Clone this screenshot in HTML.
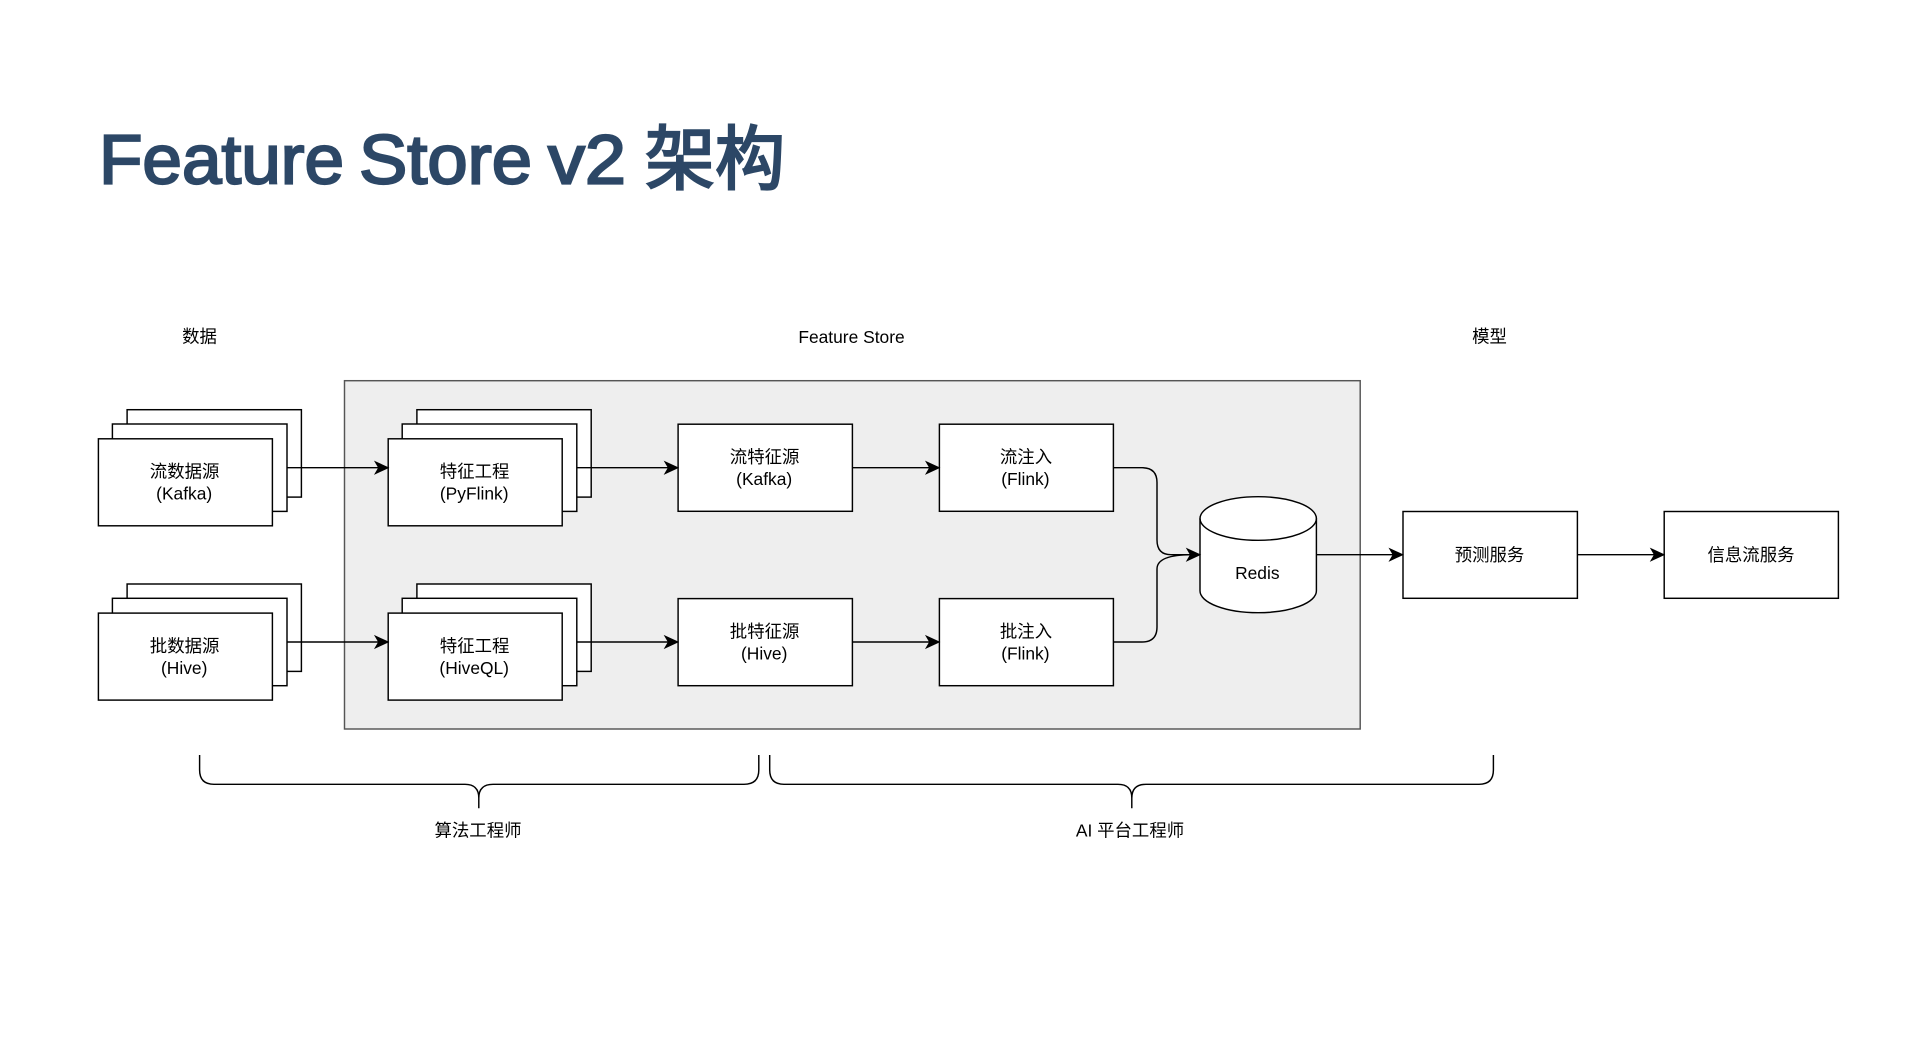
<!DOCTYPE html>
<html lang="zh">
<head>
<meta charset="utf-8">
<title>Feature Store v2 架构</title>
<style>
html,body{margin:0;padding:0;background:#fff;width:1928px;height:1038px;overflow:hidden}
svg{display:block}
text{font-family:"Liberation Sans","Noto Sans CJK SC",sans-serif;font-size:17.4px;fill:#000;text-anchor:middle}
.t{font-size:70px;font-weight:400;fill:#2c4766;stroke:#2c4766;stroke-width:2.2px;text-anchor:start}
.b{fill:#fff;stroke:#000;stroke-width:1.45}
.l{fill:none;stroke:#000;stroke-width:1.45}
.h{fill:#000;stroke:#000;stroke-width:1}
</style>
</head>
<body>
<svg width="1928" height="1038" viewBox="0 0 1928 1038" xmlns="http://www.w3.org/2000/svg">
<defs>
<path id="ah" d="M0 0 L-13 -6 L-9.5 0 L-13 6 Z"/>
<g id="stack">
<rect class="b" x="28.7" y="-28.6" width="174.3" height="87.4"/>
<rect class="b" x="14" y="-14.3" width="174.6" height="87.4"/>
<rect class="b" x="0" y="0.5" width="174" height="87"/>
</g>
</defs>

<text class="t" x="99" y="183.7" textLength="245" lengthAdjust="spacingAndGlyphs">Feature</text>
<text class="t" x="359" y="183.7" textLength="173" lengthAdjust="spacingAndGlyphs">Store</text>
<text class="t" x="548" y="183.7" textLength="78" lengthAdjust="spacingAndGlyphs">v2</text>
<text class="t" x="645" y="183.7" textLength="140" lengthAdjust="spacingAndGlyphs">架构</text>

<text x="199.5" y="342.5">数据</text>
<text x="851.5" y="343">Feature Store</text>
<text x="1489.5" y="342.5">模型</text>

<rect x="344.5" y="380.7" width="1015.7" height="348.3" fill="#eeeeee" stroke="#555" stroke-width="1.45"/>

<use href="#stack" x="98.4" y="438.3"/>
<use href="#stack" x="98.4" y="612.6"/>
<use href="#stack" x="388.2" y="438.3"/>
<use href="#stack" x="388.2" y="612.6"/>

<rect class="b" x="678.1" y="424.2" width="174.3" height="87.1"/>
<rect class="b" x="939.4" y="424.2" width="174" height="87.1"/>
<rect class="b" x="678.1" y="598.6" width="174.3" height="87.1"/>
<rect class="b" x="939.4" y="598.6" width="174" height="87.1"/>
<rect class="b" x="1403" y="511.5" width="174.4" height="86.8"/>
<rect class="b" x="1664.2" y="511.5" width="174.2" height="86.8"/>

<path class="b" d="M1200 518.5 A58.2 21.8 0 0 1 1316.4 518.5 V590.9 A58.2 21.8 0 0 1 1200 590.9 Z"/>
<path class="l" d="M1200 518.5 A58.2 21.8 0 0 0 1316.4 518.5"/>

<path class="l" d="M287 467.7 H380 M287 642 H380 M577 467.7 H670 M577 642 H670 M852.4 467.7 H931 M852.4 642 H931 M1316.6 554.7 H1395 M1577.6 554.7 H1656"/>
<path class="l" d="M1113.6 467.7 H1142 Q1157 467.7 1157 482.5 V540 Q1157 554.7 1171 554.7 H1192 Q1157 554.7 1157 569 V627 Q1157 642 1142 642 H1113.6"/>

<use class="h" href="#ah" x="388.2" y="467.7"/>
<use class="h" href="#ah" x="388.2" y="642"/>
<use class="h" href="#ah" x="677.9" y="467.7"/>
<use class="h" href="#ah" x="677.9" y="642"/>
<use class="h" href="#ah" x="939.2" y="467.7"/>
<use class="h" href="#ah" x="939.2" y="642"/>
<use class="h" href="#ah" x="1200" y="554.7"/>
<use class="h" href="#ah" x="1402.7" y="554.7"/>
<use class="h" href="#ah" x="1664" y="554.7"/>

<text x="184.6" y="477.4">流数据源</text><text x="184.2" y="499.6">(Kafka)</text>
<text x="184.6" y="652">批数据源</text><text x="184.2" y="674.2">(Hive)</text>
<text x="474.6" y="477.4">特征工程</text><text x="474.2" y="499.6">(PyFlink)</text>
<text x="474.6" y="652">特征工程</text><text x="474.2" y="674.2">(HiveQL)</text>
<text x="764.6" y="462.9">流特征源</text><text x="764.2" y="485.1">(Kafka)</text>
<text x="764.6" y="637.3">批特征源</text><text x="764.2" y="659.5">(Hive)</text>
<text x="1026" y="462.9">流注入</text><text x="1025.4" y="485.1">(Flink)</text>
<text x="1026" y="637.3">批注入</text><text x="1025.4" y="659.5">(Flink)</text>
<text x="1257.3" y="579">Redis</text>
<text x="1489.5" y="561">预测服务</text>
<text x="1751" y="561">信息流服务</text>

<path class="l" d="M199.6 755 V770 Q199.6 784.3 214 784.3 H465 Q478.8 784.3 478.8 798 Q478.8 784.3 493 784.3 H744 Q758.8 784.3 758.8 770 V755 M478.8 798 V808.3"/>
<path class="l" d="M769.7 755 V770 Q769.7 784.3 784 784.3 H1118 Q1131.8 784.3 1131.8 798 Q1131.8 784.3 1146 784.3 H1479 Q1493.4 784.3 1493.4 770 V755 M1131.8 798 V808.3"/>

<text x="478" y="836.3">算法工程师</text>
<text x="1130" y="836.3">AI 平台工程师</text>
</svg>
</body>
</html>
